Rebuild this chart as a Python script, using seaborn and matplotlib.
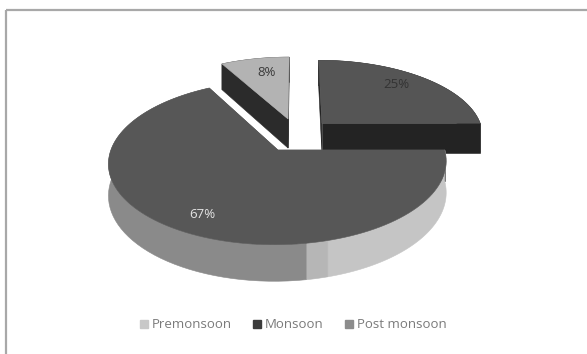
import numpy as np
import matplotlib
matplotlib.use("Agg")
import matplotlib.pyplot as plt
import seaborn as sns
from matplotlib.patches import Polygon, Patch

# Share of the yearly total by season (percent)
seasons = ["Premonsoon", "Monsoon", "Post monsoon"]
shares = [8, 25, 67]
share_labels = [f"{v}%" for v in shares]

sns.set_theme(style="white")
plt.rcParams["font.family"] = ["Open Sans", "DejaVu Sans"]

# Face colours for each slice (top face, cut faces)
top_colors = sns.color_palette(["#b3b3b3", "#555555", "#575757"])
cut_colors = sns.color_palette(["#2b2b2b", "#232323", "#575757"])
legend_colors = ["#c8c8c8", "#3c3c3c", "#8c8c8c"]
label_colors = ["#3a3a3a", "#333333", "#e4e4e4"]
# label placement on each top face: (radius fraction, angle offset in degrees)
label_place = [(0.75, 2.4), (0.78, -3.0), (0.82, -2.1)]
# light falling on the rim of the front slice: (start angle in degrees, colour)
rim_shades = [(90.0, "#c5c5c5"), (164.2, "#b6b6b6"), (170.7, "#8a8a8a")]

# Simple perspective camera for the 3-D disc (pixel units)
X0, Y0 = 296.8, 134.9
RX, RZ, THICK = 162.0, 75.6, 30.0
PERSP = 0.15
EXPLODE = 0.224
FIRST_ANGLE = np.deg2rad(331.2)


def project(x, z, down=0.0):
    s = 1.0 / (1.0 - PERSP * z)
    return X0 + RX * x * s, Y0 + (RZ * z + THICK * down) * s


fig = plt.figure(figsize=(5.87, 3.54), dpi=100)
ax = fig.add_axes([0, 0, 1, 1])
ax.set_xlim(0, 587)
ax.set_ylim(354, 0)
ax.axis("off")

fractions = np.array(shares, dtype=float) / np.sum(shares)
bounds = FIRST_ANGLE + 2 * np.pi * np.concatenate([[0], np.cumsum(fractions)])


def arc(ox, oz, t1, t2, down, n=120):
    t = np.linspace(t1, t2, n)
    return [project(ox + np.sin(a), oz - np.cos(a), down) for a in t]


def face(points, color):
    ax.add_patch(Polygon(points, closed=True, facecolor=color,
                         edgecolor=color, lw=0.4))


for i, (season, frac) in enumerate(zip(seasons, fractions)):
    t1, t2 = bounds[i], bounds[i + 1]
    mid = 0.5 * (t1 + t2)
    ox, oz = EXPLODE * np.sin(mid), -EXPLODE * np.cos(mid)
    apex_top = project(ox, oz, 0)
    apex_bot = project(ox, oz, 1)

    # radial cut faces, farther one first
    for a in sorted([t1, t2], key=lambda a: -np.cos(a)):
        r_top = project(ox + np.sin(a), oz - np.cos(a), 0)
        r_bot = project(ox + np.sin(a), oz - np.cos(a), 1)
        face([apex_top, r_top, r_bot, apex_bot], cut_colors[i])

    # outer rim of the slice
    if i == len(seasons) - 1:
        edges = [np.deg2rad(a) + 2 * np.pi for a, _ in rim_shades] + [t2]
        for k, (_, col) in enumerate(rim_shades):
            a1, a2 = edges[k], edges[k + 1]
            face(arc(ox, oz, a1, a2, 0, 60) + arc(ox, oz, a2, a1, 1, 60), col)
    else:
        face(arc(ox, oz, t1, t2, 0) + arc(ox, oz, t2, t1, 1), cut_colors[i])

    # top face
    face([apex_top] + arc(ox, oz, t1, t2, 0), top_colors[i])

    lr, dang = label_place[i]
    la = mid + np.deg2rad(dang)
    lx, ly = project(ox + lr * np.sin(la), oz - lr * np.cos(la), 0)
    ax.text(lx, ly, share_labels[i], ha="center", va="center",
            fontsize=9.5, color=label_colors[i])

# chart area frame
ax.plot([6, 587], [10, 10], color="#a8a8a8", lw=1.6, solid_capstyle="butt")
ax.plot([6, 6], [10, 354], color="#a8a8a8", lw=1.6, solid_capstyle="butt")

handles = [Patch(facecolor=c, edgecolor=c) for c in legend_colors]
fig.legend(handles, seasons, loc="center", bbox_to_anchor=(0.50, 0.082),
           ncol=3, frameon=False, fontsize=9.5, labelcolor="#7a7a7a",
           handlelength=0.6, handleheight=0.6, handletextpad=0.3,
           columnspacing=1.6)

fig.savefig("out.png", dpi=100, facecolor="white")
